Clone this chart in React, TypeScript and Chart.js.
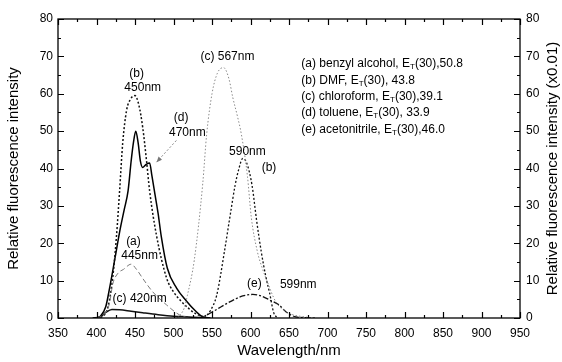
import React, { useEffect, useRef } from 'react';
import { Chart, registerables } from 'chart.js';

Chart.register(...registerables);

// ---- data (wavelength in nm, relative fluorescence intensity) ----
// (a) benzyl alcohol, peak 445 nm
const aWl = [400, 410, 417, 421, 428, 435, 445, 452, 460, 473, 491, 508, 520];
const aVal = [0, 1, 4, 9, 12, 13, 14.4, 13, 10.6, 7, 3.5, 0.8, 0];
// (b) DMF, peak 450 nm
const bWl = [400, 410, 415, 421, 426, 430, 434, 439, 444, 450, 455, 460, 465, 469, 478, 491, 500, 510, 520, 530, 540];
const bVal = [0, 0.8, 3, 10.7, 22, 34, 46.7, 55.5, 58.5, 59.5, 57, 51, 42, 34, 22, 10.7, 7, 4.5, 2.5, 1, 0.3];
// (b) DMF, second band 590 nm
const b2Wl = [540, 548, 556, 566, 574, 580, 585, 590, 595, 602, 608, 614, 620, 625, 630, 635];
const b2Val = [0, 2, 6, 17.6, 28, 35.5, 40, 42.7, 41.5, 35.5, 26, 17.7, 11, 6.5, 1.5, 0];
// (c) chloroform, weak band 420 nm
const cLowWl = [395, 405, 412, 420, 430, 445, 460, 480, 500, 520, 540];
const cLowVal = [0, 0.3, 1.5, 2.3, 2.2, 1.8, 1.4, 0.9, 0.5, 0.3, 0];
// (c) chloroform, main band 567 nm
const cWl = [505, 514, 518, 527, 538, 543, 550, 557, 565, 572, 577, 583, 588, 596, 601, 609, 615, 620, 633, 650, 670, 685];
const cVal = [0, 2.7, 6, 15.5, 36, 49, 60, 65.5, 67, 64, 59, 54, 49.3, 38, 27, 17.7, 13.5, 10.7, 4.3, 1.3, 0.3, 0];
// (d) toluene, peak 450 nm with shoulder 470 nm
const dWl = [400, 405, 412, 417, 424, 430, 436, 441, 445, 448, 451, 454, 457, 460, 465, 469, 472, 476, 480, 484, 492, 504, 517, 528, 538, 548];
const dVal = [0, 0.5, 3, 8, 16, 23, 29, 34, 42, 47, 50, 47, 42, 40.3, 41.2, 41.5, 38, 33, 28, 22, 13.3, 8, 4.5, 2, 0.3, 0];
// (e) acetonitrile, peak 599 nm
const eWl = [530, 538, 551, 562, 573, 590, 603, 615, 625, 637, 646, 659, 685];
const eVal = [0, 0.3, 1.7, 3, 4.3, 5.9, 6.3, 5.8, 4.8, 3.5, 1.7, 0.3, 0];

// ---- axes ----
const xMin = 350;
const xMax = 950;
const xStep = 50;
const yMin = 0;
const yMax = 80;
const yStep = 10;

// ---- text ----
const xTitle = 'Wavelength/nm';
const yTitle = 'Relative fluorescence intensity';
const y2Title = 'Relative fluorescence intensity (x0.01)';

const annoText = ['(b)', '450nm', '(d)', '470nm', '(c) 567nm', '590nm', '(b)', '(a)', '445nm', '(c) 420nm', '(e)', '599nm'];
const annoX = [452, 460, 510, 518, 570, 596, 624, 448, 456, 456, 605, 662];
const annoY = [65.3, 61.6, 53.6, 49.6, 69.9, 44.6, 40.3, 20.5, 16.8, 5.3, 9.3, 8.8];

const legendPre = ['(a) benzyl alcohol, E', '(b) DMF, E', '(c) chloroform, E', '(d) toluene, E', '(e) acetonitrile, E'];
const legendPost = ['(30),50.8', '(30), 43.8', '(30),39.1', '(30), 33.9', '(30),46.0'];
const legendX = 666;
const legendY = [68, 63.5, 59.2, 55, 50.4];

const arrowFrom = { x: 503.7, y: 47.5 };
const arrowTo = { x: 478, y: 41.7 };

const FONT = '"Liberation Sans", Arial, Helvetica, sans-serif';

const pts = (xs: number[], ys: number[]) => xs.map((x, i) => ({ x, y: ys[i] }));

const decorPlugin = {
  id: 'decor',
  afterDatasetsDraw(chart: any) {
    const { ctx, chartArea } = chart;
    const { left, right, top, bottom } = chartArea;
    const xs = chart.scales.x;
    const ys = chart.scales.y;
    ctx.save();
    ctx.strokeStyle = '#000';
    ctx.lineWidth = 1.3;
    ctx.strokeRect(left, top, right - left, bottom - top);
    ctx.lineWidth = 1.2;
    ctx.beginPath();
    for (let v = xMin; v <= xMax; v += xStep / 2) {
      const px = Math.round(xs.getPixelForValue(v)) + 0.5;
      const len = (v - xMin) % xStep === 0 ? 6 : 3;
      ctx.moveTo(px, bottom);
      ctx.lineTo(px, bottom - len);
      ctx.moveTo(px, top);
      ctx.lineTo(px, top + len);
    }
    for (let v = yMin; v <= yMax; v += yStep / 2) {
      const py = Math.round(ys.getPixelForValue(v)) + 0.5;
      const len = (v - yMin) % yStep === 0 ? 6 : 3;
      ctx.moveTo(left, py);
      ctx.lineTo(left + len, py);
      ctx.moveTo(right, py);
      ctx.lineTo(right - len, py);
    }
    ctx.stroke();

    // annotations
    ctx.fillStyle = '#000';
    ctx.font = `12px ${FONT}`;
    ctx.textAlign = 'center';
    ctx.textBaseline = 'middle';
    annoText.forEach((t, i) => {
      ctx.fillText(t, xs.getPixelForValue(annoX[i]), ys.getPixelForValue(annoY[i]));
    });

    // arrow
    const x1 = xs.getPixelForValue(arrowFrom.x);
    const y1 = ys.getPixelForValue(arrowFrom.y);
    const x2 = xs.getPixelForValue(arrowTo.x);
    const y2 = ys.getPixelForValue(arrowTo.y);
    ctx.strokeStyle = '#888';
    ctx.lineWidth = 1;
    ctx.setLineDash([2, 2]);
    ctx.beginPath();
    ctx.moveTo(x1, y1);
    ctx.lineTo(x2, y2);
    ctx.stroke();
    ctx.setLineDash([]);
    const ang = Math.atan2(y2 - y1, x2 - x1);
    ctx.fillStyle = '#777';
    ctx.beginPath();
    ctx.moveTo(x2, y2);
    ctx.lineTo(x2 - 6 * Math.cos(ang - 0.4), y2 - 6 * Math.sin(ang - 0.4));
    ctx.lineTo(x2 - 6 * Math.cos(ang + 0.4), y2 - 6 * Math.sin(ang + 0.4));
    ctx.closePath();
    ctx.fill();

    // legend text block with subscript T
    ctx.fillStyle = '#000';
    ctx.textAlign = 'left';
    ctx.textBaseline = 'middle';
    legendPre.forEach((pre, i) => {
      const lx = xs.getPixelForValue(legendX);
      const ly = ys.getPixelForValue(legendY[i]);
      ctx.font = `12px ${FONT}`;
      ctx.fillText(pre, lx, ly);
      let w = ctx.measureText(pre).width;
      ctx.font = `8px ${FONT}`;
      ctx.fillText('T', lx + w, ly + 3);
      w += ctx.measureText('T').width;
      ctx.font = `12px ${FONT}`;
      ctx.fillText(legendPost[i], lx + w, ly);
    });

    // right axis title (reads bottom to top)
    ctx.save();
    ctx.translate(553, (top + bottom) / 2);
    ctx.rotate(-Math.PI / 2);
    ctx.font = `15px ${FONT}`;
    ctx.textAlign = 'center';
    ctx.textBaseline = 'middle';
    ctx.fillText(y2Title, 0, 0);
    ctx.restore();

    ctx.restore();
  },
};

export default function App() {
  const ref = useRef<HTMLCanvasElement>(null);
  useEffect(() => {
    document.body.style.margin = '0';
    const ds = (data: any, color: string, dash: number[], width: number) => ({
      data,
      borderColor: color,
      borderDash: dash,
      borderWidth: width,
      pointRadius: 0,
      fill: false,
      cubicInterpolationMode: 'monotone',
      tension: 0.4,
    });
    const chart = new Chart(ref.current as HTMLCanvasElement, {
      type: 'line',
      data: {
        datasets: [
          ds(pts(cWl, cVal), '#8a8a8a', [1.5, 2], 1),
          ds(pts(aWl, aVal), '#7a7a7a', [5, 3], 1),
          ds(pts(bWl, bVal), '#111', [2, 2], 1.5),
          ds(pts(b2Wl, b2Val), '#111', [2, 2], 1.3),
          ds(pts(eWl, eVal), '#111', [6, 2, 2, 2], 1.3),
          ds(pts(cLowWl, cLowVal), '#111', [], 1.5),
          ds(pts(dWl, dVal), '#000', [], 1.5),
        ] as any,
      },
      options: {
        animation: false,
        responsive: false,
        maintainAspectRatio: false,
        layout: { padding: { top: 19, right: 0, left: 0, bottom: 0 } },
        plugins: { legend: { display: false }, tooltip: { enabled: false } },
        scales: {
          x: {
            type: 'linear',
            min: xMin,
            max: xMax,
            ticks: { stepSize: xStep, color: '#000', font: { family: FONT, size: 12 }, padding: 8, maxRotation: 0 },
            grid: { drawOnChartArea: false, drawTicks: false },
            border: { display: false },
            title: { display: true, text: xTitle, color: '#000', font: { family: FONT, size: 15 }, padding: { top: 0, bottom: 2 } },
            afterFit: (s: any) => { s.height = 44; },
          },
          y: {
            position: 'left',
            min: yMin,
            max: yMax,
            ticks: { stepSize: yStep, color: '#000', font: { family: FONT, size: 12 }, padding: 5 },
            grid: { drawOnChartArea: false, drawTicks: false },
            border: { display: false },
            title: { display: true, text: yTitle, color: '#000', font: { family: FONT, size: 15 }, padding: { top: 5, bottom: 0 } },
            afterFit: (s: any) => { s.width = 58; },
          },
          y2: {
            position: 'right',
            min: yMin,
            max: yMax,
            ticks: { stepSize: yStep, color: '#000', font: { family: FONT, size: 12 }, padding: 6 },
            grid: { drawOnChartArea: false, drawTicks: false },
            border: { display: false },
            afterFit: (s: any) => { s.width = 42; },
          },
        },
      } as any,
      plugins: [decorPlugin],
    });
    return () => chart.destroy();
  }, []);
  return (
    <div style={{ width: 562, height: 362, background: '#fff' }}>
      <canvas ref={ref} width={562} height={362} style={{ display: 'block' }} />
    </div>
  );
}
